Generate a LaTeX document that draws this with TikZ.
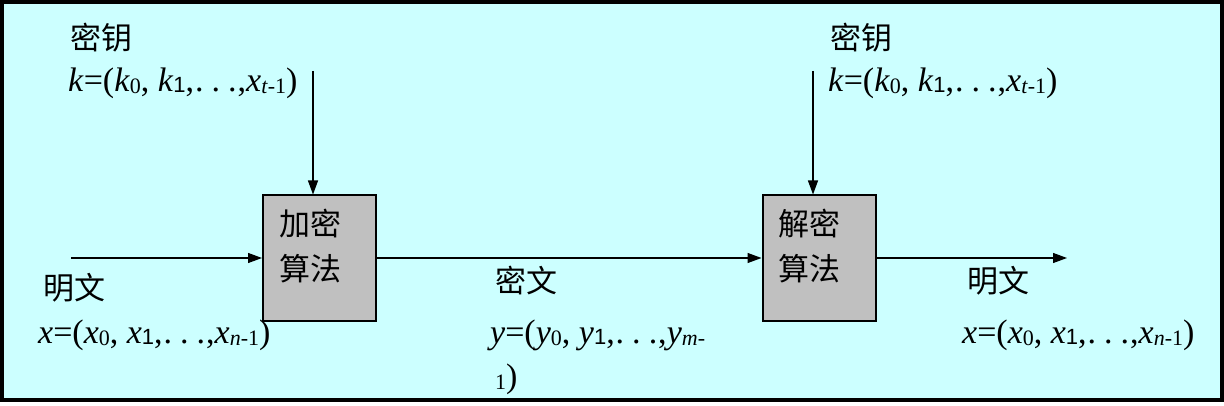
\documentclass[tikz,border=0pt]{standalone}
\usepackage{fontspec}
\setmainfont{Liberation Serif}
\newfontfamily\tnr{Liberation Serif}
\newfontfamily\cjk{Noto Sans CJK SC}
\newfontfamily\subsans{Liberation Sans}
\usetikzlibrary{arrows.meta,positioning}
\definecolor{bgcyan}{HTML}{CCFFFF}
\definecolor{boxgray}{HTML}{C0C0C0}
\newcommand{\lo}[1]{\raisebox{-2pt}{\fontsize{22}{22}\selectfont #1}}
\newcommand{\losf}[1]{\raisebox{-1pt}{\fontsize{22}{22}\selectfont\subsans #1}}
\newcommand{\spdots}{\hspace{1pt}.\hspace{8pt}.\hspace{8pt}.\hspace{1pt}}
\newcommand{\kseq}{\textit{k}=(\textit{k}\lo{0}, \textit{k}\losf{1},\spdots,\textit{x}\lo{\textit{t}-1})}
\newcommand{\xseq}{\textit{x}=(\textit{x}\lo{0}, \textit{x}\losf{1},\spdots,\textit{x}\lo{\textit{n}-1})}

\begin{document}
\begin{tikzpicture}[x=1pt, y=-1pt, >={Stealth[length=14pt,width=10pt,inset=0pt]},
  lbl/.style={anchor=base west, inner sep=0pt, font=\fontsize{34}{38}\selectfont\tnr},
  cjklbl/.style={anchor=base west, inner sep=0pt, font=\fontsize{31}{38}\selectfont\cjk},
  boxtxt/.style={anchor=north west, inner sep=0pt, align=left, font=\fontsize{31}{45}\selectfont\cjk},
  algbox/.style={draw, line width=2pt, fill=boxgray, minimum width=113pt, minimum height=125pt, inner sep=0pt},
  flow/.style={->, line width=1.2pt}]

\useasboundingbox (0,0) rectangle (1224,406);
\fill[bgcyan] (2,2) rectangle (1221,400);
\draw[line width=4pt] (2,2.5) rectangle (1221.5,399.5);

% algorithm boxes
\node[algbox] (enc) at (319.5,258) {};
\node[algbox] (dec) at (819,258) {};

\foreach \b/\t in {enc/加密, dec/解密}
  \node[boxtxt] (\b-txt) at ([xshift=17pt, yshift=-14pt]\b.north west) {\t\\算法};

% keys
\foreach \s/\x in {l/68, r/828} {
  \node[cjklbl] (key-\s) at (\x+2,50) {密钥};
  \node[lbl] (kseq-\s) at (\x,92) {\kseq};
}

\coordinate (kenc) at (313,71);
\coordinate (kdec) at (813,71);
\draw[flow] (kenc) -- (kenc |- enc.north);
\draw[flow] (kdec) -- (kdec |- dec.north);

% data flow
\coordinate (pin) at (71,258);
\coordinate (pout) at (1067,258);
\draw[flow] (pin) -- (enc.west);
\draw[flow] (enc.east) -- (dec.west);
\draw[flow] (dec.east) -- (pout);

\node[cjklbl] (plain-l) at (43,299) {明文};
\node[lbl] (xseq-l) at (38,343) {\xseq};

\node[cjklbl] (ciph) at (495,293) {密文};
\node[lbl] (yseq) at (490,343) {\textit{y}=(\textit{y}\lo{0}, \textit{y}\losf{1},\spdots,\textit{y}\lo{\textit{m}-}};
\node[lbl] (yseq-end) at (495,387) {\lo{1})};

\node[cjklbl] (plain-r) at (967,292) {明文};
\node[lbl] (xseq-r) at (962,343) {\xseq};

\end{tikzpicture}
\end{document}
